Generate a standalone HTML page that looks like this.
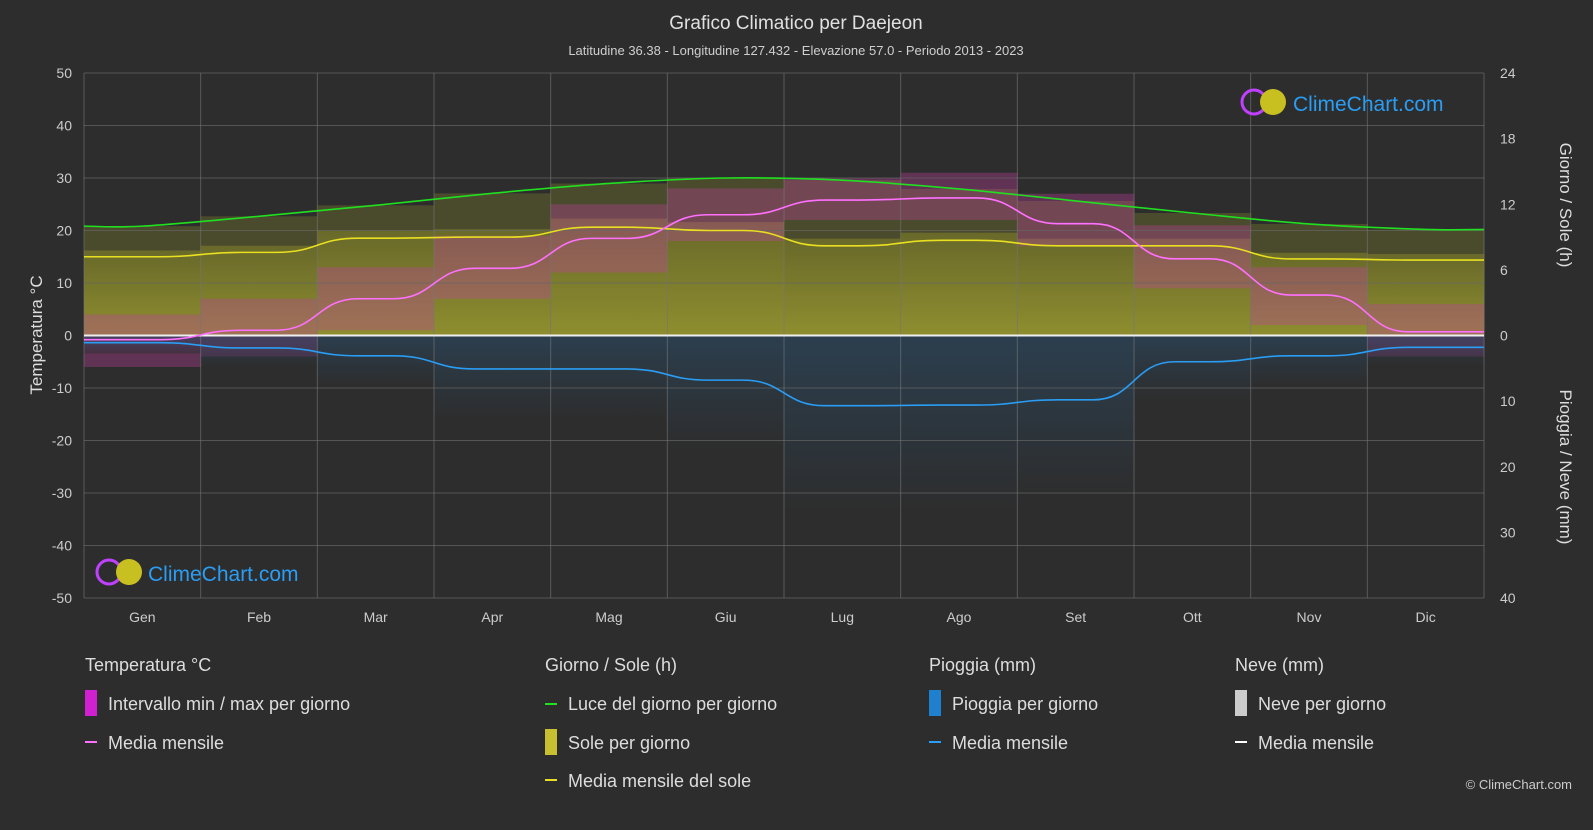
<!DOCTYPE html>
<html><head><meta charset="utf-8">
<style>
body{margin:0;background:#2d2d2d;font-family:"Liberation Sans",sans-serif;color:#ddd;}
svg text{font-family:"Liberation Sans",sans-serif;}
</style></head>
<body>
<svg id="chart" width="1593" height="825" xmlns="http://www.w3.org/2000/svg">
<defs>
<linearGradient id="sunGrad" x1="0" y1="0" x2="0" y2="1"><stop offset="0" stop-color="#6e6e2a"/><stop offset="1" stop-color="#9a9a30"/></linearGradient>
<linearGradient id="rainGrad" x1="0" y1="0" x2="0" y2="1"><stop offset="0" stop-color="#2a5070"/><stop offset="1" stop-color="#2d2d2d"/></linearGradient>
</defs>
<rect x="0" y="0" width="1593" height="825" fill="#2d2d2d"/>
<text x="796" y="29" text-anchor="middle" font-size="19" fill="#e0e0e0">Grafico Climatico per Daejeon</text>
<text x="796" y="55" text-anchor="middle" font-size="13" fill="#cfcfcf">Latitudine 36.38 - Longitudine 127.432 - Elevazione 57.0 - Periodo 2013 - 2023</text>
<g id="plot"></g>
<g id="axes"></g>
<text transform="translate(42,335) rotate(-90)" text-anchor="middle" font-size="17" fill="#ddd">Temperatura °C</text>
<text transform="translate(1560,205) rotate(90)" text-anchor="middle" font-size="17" fill="#ddd">Giorno / Sole (h)</text>
<text transform="translate(1560,467) rotate(90)" text-anchor="middle" font-size="17" fill="#ddd">Pioggia / Neve (mm)</text>
<g>
<circle cx="1254" cy="102" r="12" fill="none" stroke="#c040ff" stroke-width="3"/>
<circle cx="1273" cy="102" r="13" fill="#c8c020"/>
<text x="1293" y="111" font-size="21" fill="#2a9df4">ClimeChart.com</text>
</g>
<g>
<circle cx="109" cy="572" r="12" fill="none" stroke="#c040ff" stroke-width="3"/>
<circle cx="129" cy="572" r="13" fill="#c8c020"/>
<text x="148" y="581" font-size="21" fill="#2a9df4">ClimeChart.com</text>
</g>
<g font-size="18" fill="#ddd">
<text x="85" y="671" font-size="18">Temperatura °C</text>
<rect x="85" y="690" width="12" height="26" fill="#d020d0"/>
<text x="108" y="710">Intervallo min / max per giorno</text>
<line x1="85" y1="742" x2="97" y2="742" stroke="#ff70ff" stroke-width="2"/>
<text x="108" y="749">Media mensile</text>
<text x="545" y="671">Giorno / Sole (h)</text>
<line x1="545" y1="704" x2="557" y2="704" stroke="#20e020" stroke-width="2"/>
<text x="568" y="710">Luce del giorno per giorno</text>
<rect x="545" y="729" width="12" height="26" fill="#c8c030"/>
<text x="568" y="749">Sole per giorno</text>
<line x1="545" y1="780" x2="557" y2="780" stroke="#e8e020" stroke-width="2"/>
<text x="568" y="787">Media mensile del sole</text>
<text x="929" y="671">Pioggia (mm)</text>
<rect x="929" y="690" width="12" height="26" fill="#2080d0"/>
<text x="952" y="710">Pioggia per giorno</text>
<line x1="929" y1="742" x2="941" y2="742" stroke="#2a9df4" stroke-width="2"/>
<text x="952" y="749">Media mensile</text>
<text x="1235" y="671">Neve (mm)</text>
<rect x="1235" y="690" width="12" height="26" fill="#cccccc"/>
<text x="1258" y="710">Neve per giorno</text>
<line x1="1235" y1="742" x2="1247" y2="742" stroke="#ffffff" stroke-width="2"/>
<text x="1258" y="749">Media mensile</text>
</g>
<text x="1572" y="789" text-anchor="end" font-size="13" fill="#ccc">© ClimeChart.com</text>
</svg>
<script>
const months=["Gen","Feb","Mar","Apr","Mag","Giu","Lug","Ago","Set","Ott","Nov","Dic"];
const tempMean=[-0.8,1.0,7.0,12.8,18.5,23.0,25.8,26.2,21.3,14.6,7.7,0.7];
const tempMax=[4,7,13,19,25,28,30,31,27,21,13,6];
const tempMin=[-6,-4,1,7,12,18,22,22,17,9,2,-4];
const daylight=[10.0,10.9,11.9,13.0,13.9,14.4,14.2,13.4,12.3,11.2,10.2,9.7];
const sunMean=[7.2,7.6,8.9,9.0,9.9,9.6,8.2,8.7,8.2,8.2,7.0,6.9];
const rainMean=[1.1,1.9,3.1,5.1,5.1,6.8,10.7,10.6,9.8,4.0,3.1,1.8];
const tempTicks=[50,40,30,20,10,0,-10,-20,-30,-40,-50];
const hourTicks=[24,18,12,6,0];
const rainTicks=[10,20,30,40];

const X0=84,X1=1484,Y0=73,Y1=598;
const yT=t=>Y0+(50-t)*(Y1-Y0)/100;
const zero=yT(0);
const yH=h=>zero-h*(zero-Y0)/24;
const yR=r=>zero+r*(Y1-zero)/40;
const mw=(X1-X0)/12;
const xM=i=>X0+(i+0.5)*mw;
const NS="http://www.w3.org/2000/svg";
const plot=document.getElementById('plot'),axes=document.getElementById('axes');
function mk(tag,at,parent){const e=document.createElementNS(NS,tag);for(const k in at)e.setAttribute(k,at[k]);parent.appendChild(e);return e;}

for(let i=0;i<12;i++){
  const x=X0+i*mw;
  let r=mk('rect',{x:x,y:yH(daylight[i]),width:mw+0.5,height:zero-yH(daylight[i]),fill:'#4e4e2c',opacity:0.9},plot);
  
  
  r=mk('rect',{x:x,y:yH(sunMean[i]*1.08),width:mw+0.5,height:zero-yH(sunMean[i]*1.08),fill:'url(#sunGrad)',opacity:0.85},plot);
  
  
  r=mk('rect',{x:x,y:yT(tempMax[i]),width:mw+0.5,height:yT(tempMin[i])-yT(tempMax[i]),fill:'#c040a0',opacity:0.35},plot);
  
  
  r=mk('rect',{x:x,y:zero,width:mw+0.5,height:yR(rainMean[i]*2.5)-zero,fill:'url(#rainGrad)',opacity:0.5},plot);
  
  
}
for(const t of tempTicks){
  mk('line',{x1:X0,x2:X1,y1:yT(t),y2:yT(t),stroke:'#666','stroke-width':1,opacity:0.7},axes);
  const tx=mk('text',{x:X0-12,y:yT(t)+5,'text-anchor':'end','font-size':14,fill:'#ccc'},axes);tx.textContent=t;
  
  
}
for(let i=0;i<=12;i++)mk('line',{x1:X0+i*mw,x2:X0+i*mw,y1:Y0,y2:Y1,stroke:'#777','stroke-width':1,opacity:0.6},axes);
for(let i=0;i<12;i++){
  const tx=mk('text',{x:xM(i),y:Y1+24,'text-anchor':'middle','font-size':14,fill:'#ccc'},axes);tx.textContent=months[i];
  
  
}
for(const h of hourTicks){
  const tx=mk('text',{x:X1+16,y:yH(h)+5,'font-size':14,fill:'#ccc'},axes);tx.textContent=h;
  
  
}
for(const r of rainTicks){
  const tx=mk('text',{x:X1+16,y:yR(r)+5,'font-size':14,fill:'#ccc'},axes);tx.textContent=r;
  
  
}
mk('line',{x1:X0,x2:X1,y1:zero,y2:zero,stroke:'#eee','stroke-width':2},axes);
function stepPath(vals,fy){
  const f=0.15;
  let d='M'+X0+','+fy(vals[0]);
  for(let i=0;i<12;i++){
    const xs=xM(i)+f*mw;
    d+=' L'+xs+','+fy(vals[i]);
    if(i<11){
      const xe=xM(i+1)-f*mw, cx=(xe-xs)/2;
      d+=` C${xs+cx},${fy(vals[i])} ${xe-cx},${fy(vals[i+1])} ${xe},${fy(vals[i+1])}`;
    }
  }
  d+=' L'+X1+','+fy(vals[11]);
  return d;
}
function line(vals,fy,color,name){
  const l=mk('path',{d:stepPath(vals,fy),fill:'none',stroke:color,'stroke-width':1.6},axes);
  
  
}
function smooth(vals,fy){
  const p=[[X0,fy(vals[0])]];
  vals.forEach((v,i)=>p.push([xM(i),fy(v)]));
  p.push([X1,fy(vals[11])]);
  let d='M'+p[0][0]+','+p[0][1];
  for(let i=0;i<p.length-1;i++){
    const a=p[Math.max(0,i-1)],b=p[i],c=p[i+1],e=p[Math.min(p.length-1,i+2)];
    d+=` C${b[0]+(c[0]-a[0])/6},${b[1]+(c[1]-a[1])/6} ${c[0]-(e[0]-b[0])/6},${c[1]-(e[1]-b[1])/6} ${c[0]},${c[1]}`;
  }
  return d;
}
const dl=mk('path',{d:smooth(daylight,yH),fill:'none',stroke:'#20e020','stroke-width':1.6},axes);


line(sunMean,yH,'#e8e020','sun-mean-line');
line(tempMean,yT,'#ff70ff','temp-mean-line');
line(rainMean,yR,'#2a9df4','rain-mean-line');
</script>
</body></html>
